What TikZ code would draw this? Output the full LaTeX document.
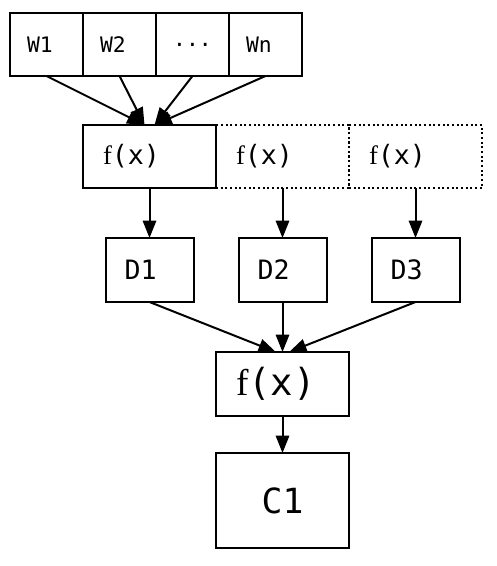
\documentclass[tikz,border=0pt]{standalone}
\usepackage{fontspec}
\setmonofont{DejaVu Sans Mono}
\newfontfamily\fletter{Liberation Serif}
\usetikzlibrary{positioning,arrows.meta}

\newcommand{\fx}{{\fletter f}(x)}

\begin{document}
\begin{tikzpicture}[
x=0.75pt, y=0.75pt,
every node/.style={outer sep=0pt, inner ysep=0pt},
wnode/.style={rectangle, draw=black, line width=1.5pt, minimum width=54.75pt, minimum height=47.25pt, inner xsep=12.75pt, text width=29.25pt, align=left, font=\ttfamily\fontsize{16}{16}\selectfont},
fnode/.style={rectangle, draw=black, line width=1.5pt, minimum width=99.75pt, minimum height=47.25pt, inner xsep=15pt, text width=69.75pt, align=left, font=\ttfamily\fontsize{20}{20}\selectfont},
fnodedot/.style={fnode, dash pattern=on 1.5pt off 2pt},
dnode/.style={rectangle, draw=black, line width=1.5pt, minimum width=66pt, minimum height=48pt, inner xsep=14.25pt, text width=37.5pt, align=left, font=\ttfamily\fontsize{20}{20}\selectfont},
bignode/.style={fnode, minimum height=48pt, font=\ttfamily\fontsize{28}{28}\selectfont},
cnode/.style={rectangle, draw=black, line width=1.5pt, minimum width=99.75pt, minimum height=71.25pt, font=\ttfamily\fontsize{26}{26}\selectfont},
arrow/.style={-{Triangle[length=13pt,width=10pt]}, line width=1.5pt},
]
\useasboundingbox (0,0) rectangle (496,-566);

%Nodes
%%% Fila W
\node[wnode]      (w1)       at (46.5,-44.5) {W1};
\node[wnode]      (w2)       [right=0pt of w1] {W2};
\node[wnode, align=center] (wdots) [right=0pt of w2] {...};
\node[wnode]      (wn)       [right=0pt of wdots] {Wn};

%%% Fila f(x)
\node[fnode]      (fUno)     [below right=36.75pt and 0pt of w1.south east] {\fx};
\node[fnodedot]   (fDos)     [right=0pt of fUno] {\fx};
\node[fnodedot]   (fTres)    [right=0pt of fDos] {\fx};

%%% Fila D
\node[dnode]      (dUno)     [below=37.5pt of fUno] {D1};
\node[dnode]      (dDos)     [below=37.5pt of fDos] {D2};
\node[dnode]      (dTres)    [below=37.5pt of fTres] {D3};

%%% f(x) y C1
\node[bignode]    (fFinal)   [below=37.5pt of dDos] {\fx};
\node[cnode]      (cUno)     [below=27.75pt of fFinal] {C1};

%Lines
%%% W -> f(x)
\draw[arrow] (w1.south) -- ([xshift=-3.75pt]fUno.north);
\draw[arrow] (w2.south) -- ([xshift=-3.75pt]fUno.north);
\draw[arrow] (wdots.south) -- ([xshift=3.75pt]fUno.north);
\draw[arrow] (wn.south) -- ([xshift=3.75pt]fUno.north);

%%% f(x) -> D
\draw[arrow] (fUno) -- (dUno);
\draw[arrow] (fDos) -- (dDos);
\draw[arrow] (fTres) -- (dTres);

%%% D -> f(x)
\draw[arrow] (dUno.south) -- ([xshift=-5pt]fFinal.north);
\draw[arrow] (dDos.south) -- (fFinal.north);
\draw[arrow] (dTres.south) -- ([xshift=5pt]fFinal.north);

%%% f(x) -> C1
\draw[arrow] (fFinal) -- (cUno);

\end{tikzpicture}
\end{document}
